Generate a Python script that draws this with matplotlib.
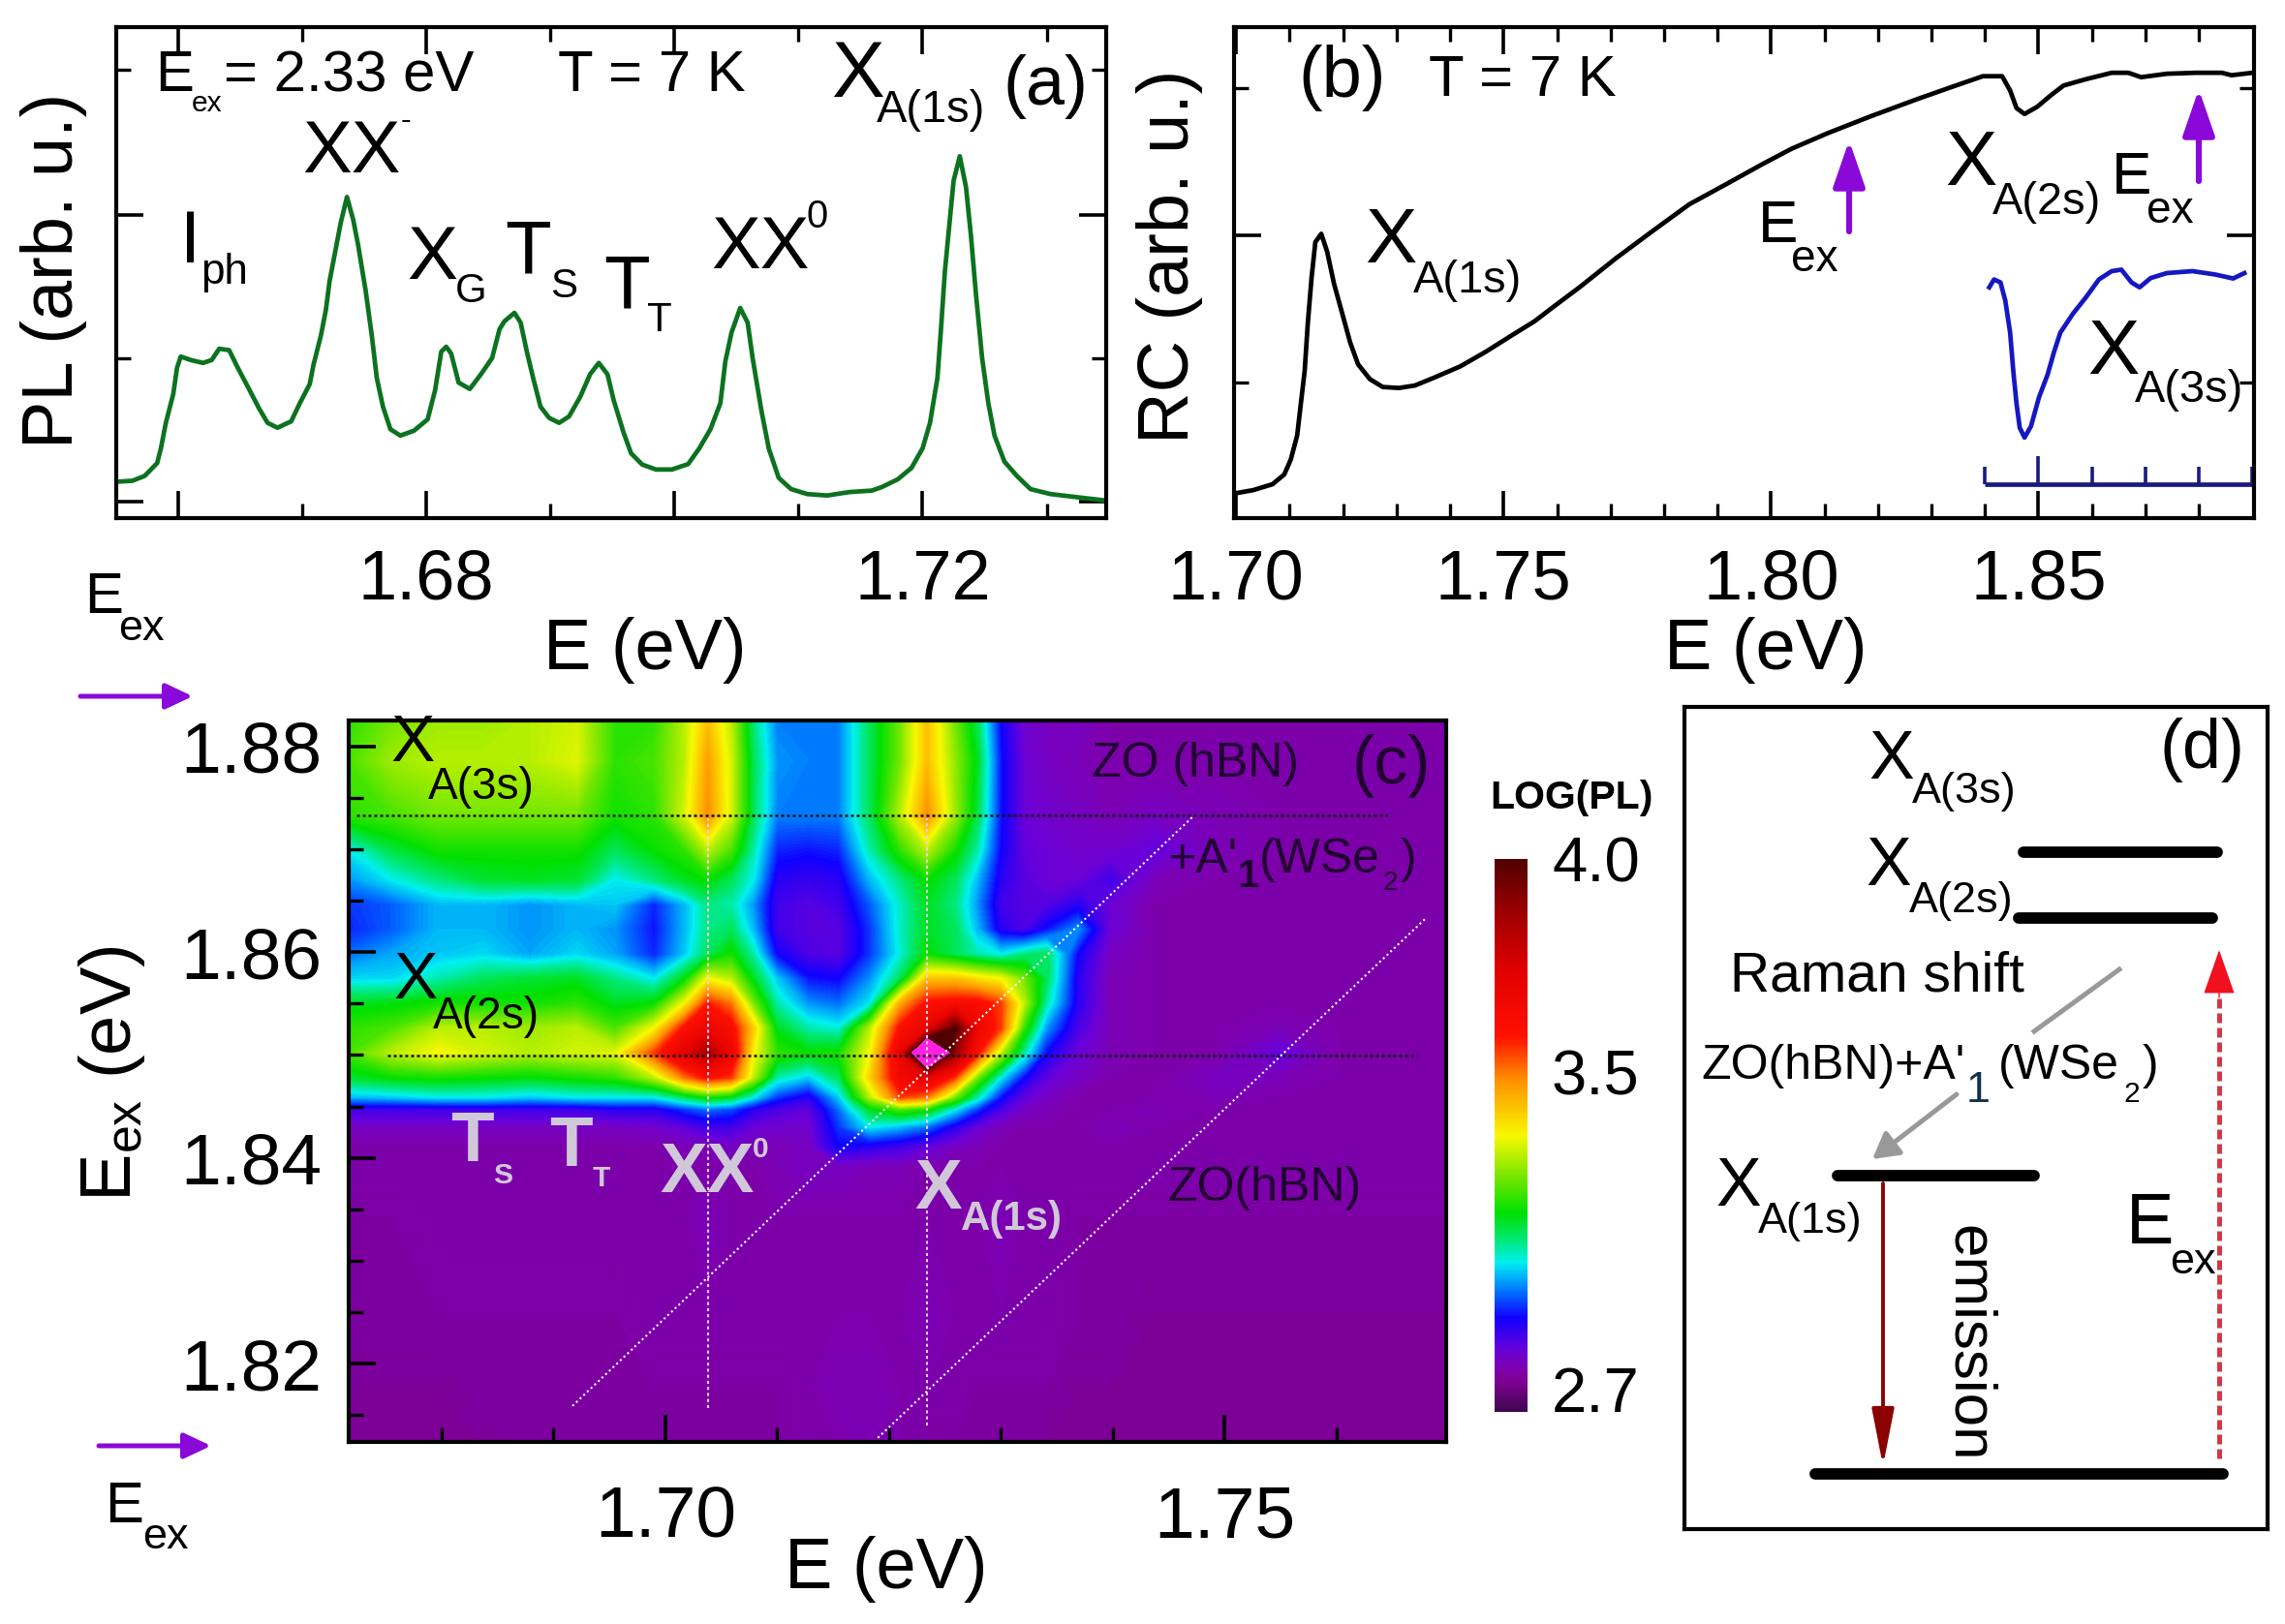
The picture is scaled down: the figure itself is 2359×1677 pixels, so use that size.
import numpy as np
import matplotlib
matplotlib.use("Agg")
import matplotlib.pyplot as plt
from matplotlib.colors import LinearSegmentedColormap, Normalize
from matplotlib.cm import ScalarMappable

plt.rcParams['font.family'] = ['Liberation Sans', 'DejaVu Sans']
plt.rcParams['mathtext.default'] = 'regular'

W, H = 2359, 1677

# panel (a) PL spectrum
pl_e = [1.6550, 1.6563, 1.6573, 1.6583, 1.6586, 1.6590, 1.6596, 1.6599, 1.6602, 1.6610, 1.6620, 1.6627,
        1.6633, 1.6641, 1.6648, 1.6657, 1.6665, 1.6672, 1.6680, 1.6691, 1.6698, 1.6706, 1.6709, 1.6715,
        1.6719, 1.6722, 1.6727, 1.6731, 1.6736, 1.6741, 1.6745, 1.6751, 1.6756, 1.6760, 1.6765, 1.6771,
        1.6779, 1.6790, 1.6801, 1.6807, 1.6812, 1.6816, 1.6820, 1.6826, 1.6835, 1.6844, 1.6853, 1.6859,
        1.6863, 1.6871, 1.6876, 1.6881, 1.6886, 1.6892, 1.6899, 1.6907, 1.6915, 1.6924, 1.6932, 1.6939,
        1.6946, 1.6951, 1.6959, 1.6965, 1.6974, 1.6985, 1.6998, 1.7011, 1.7020, 1.7029, 1.7037, 1.7041,
        1.7046, 1.7053, 1.7059, 1.7063, 1.7070, 1.7076, 1.7084, 1.7094, 1.7107, 1.7123, 1.7141, 1.7159,
        1.7167, 1.7180, 1.7191, 1.7200, 1.7206, 1.7212, 1.7215, 1.7218, 1.7221, 1.7225, 1.7230, 1.7235,
        1.7239, 1.7243, 1.7248, 1.7253, 1.7258, 1.7266, 1.7276, 1.7287, 1.7303, 1.7323, 1.7347]
pl_i = [7.4, 7.6, 8.6, 11.2, 14.2, 19.4, 25.3, 30.6, 32.9, 32.2, 31.6, 32.2,
        34.5, 34.2, 30.6, 26.3, 22.4, 19.4, 18.4, 19.7, 23.4, 27.3, 31.2, 37.2,
        42.4, 48.3, 54.9, 60.2, 65.4, 60.8, 55.6, 46.4, 37.2, 28.6, 22.7, 18.1,
        16.8, 17.8, 20.1, 26.0, 33.9, 34.9, 33.5, 27.6, 26.3, 29.3, 32.6, 38.5,
        40.1, 41.8, 39.8, 33.9, 28.6, 22.7, 20.4, 19.4, 20.7, 24.7, 29.3, 31.6,
        29.3, 24.0, 17.4, 13.2, 10.9, 9.9, 9.9, 11.0, 14.2, 18.1, 23.4, 31.9,
        37.8, 42.8, 39.8, 32.6, 22.0, 14.2, 8.2, 5.9, 4.9, 4.6, 5.3, 5.6,
        6.3, 7.9, 10.2, 14.2, 19.4, 28.6, 39.1, 50.3, 58.2, 68.7, 73.7, 67.4,
        57.5, 45.7, 32.6, 23.4, 16.8, 11.5, 8.6, 5.9, 4.9, 4.3, 3.6]

# panel (b) reflectance contrast
rc_e = [1.6996, 1.7032, 1.7068, 1.7090, 1.7102, 1.7114, 1.7121, 1.7128, 1.7134, 1.7141, 1.7148, 1.7159,
        1.7170, 1.7183, 1.7198, 1.7213, 1.7228, 1.7250, 1.7274, 1.7304, 1.7334, 1.7370, 1.7419, 1.7467,
        1.7515, 1.7558, 1.7594, 1.7643, 1.7711, 1.7779, 1.7847, 1.7916, 1.7984, 1.8038, 1.8106, 1.8188,
        1.8275, 1.8335, 1.8396, 1.8432, 1.8447, 1.8459, 1.8474, 1.8498, 1.8523, 1.8547, 1.8589, 1.8637,
        1.8668, 1.8692, 1.8740, 1.8794, 1.8843, 1.8861, 1.8900]
rc_i = [5.0, 5.7, 6.9, 8.9, 11.9, 16.8, 23.4, 29.9, 39.8, 49.0, 56.2, 57.9,
        54.3, 47.7, 41.8, 35.8, 31.3, 28.3, 26.7, 26.5, 27.0, 28.6, 30.9, 33.9,
        37.2, 40.1, 43.1, 47.1, 53.0, 58.5, 63.9, 68.0, 72.1, 75.2, 78.4, 81.9,
        85.4, 87.7, 90.0, 90.0, 87.1, 83.5, 82.3, 83.8, 86.1, 88.1, 89.4, 90.7,
        90.7, 89.8, 90.5, 90.7, 90.7, 90.2, 90.7]

# blue curve, X_A(3s) zoom
rc3s_e = [1.8408, 1.8417, 1.8429, 1.8438, 1.8447, 1.8453, 1.8459, 1.8465, 1.8474, 1.8486, 1.8501, 1.8517,
          1.8529, 1.8541, 1.8565, 1.8589, 1.8613, 1.8637, 1.8655, 1.8674, 1.8689, 1.8710, 1.8740, 1.8788,
          1.8831, 1.8864, 1.8885]
rc3s_i = [47.0, 48.6, 48.0, 44.3, 37.8, 29.9, 23.3, 18.4, 16.4, 18.7, 24.6, 29.2,
          33.8, 37.8, 41.7, 45.0, 48.6, 50.3, 50.6, 48.0, 47.0, 48.9, 49.9, 50.3,
          49.6, 48.8, 49.9]
rc3s_ticks = [1.84, 1.85, 1.86, 1.87, 1.88, 1.89]

# panel (c) PLE map, LOG(PL)
map_e = [1.6717, 1.6755, 1.6797, 1.6838, 1.6879, 1.6921, 1.6955, 1.6990, 1.7017, 1.7038,
         1.7059, 1.7079, 1.7100, 1.7128, 1.7155, 1.7183, 1.7210, 1.7234, 1.7259, 1.7279,
         1.7300, 1.7321, 1.7341, 1.7369, 1.7397, 1.7438, 1.7493, 1.7548, 1.7603, 1.7698]
map_ex = [1.8825, 1.8786, 1.8733, 1.8699, 1.8670, 1.8646, 1.8622, 1.8598, 1.8574, 1.8550, 1.8526,
          1.8502, 1.8478, 1.8459, 1.8447, 1.8430, 1.8411, 1.8392, 1.8344, 1.8248, 1.8176, 1.8124]
map_log = [
    [3.20, 3.25, 3.28, 3.28, 3.30, 3.32, 3.20, 3.20, 3.30, 3.42, 3.30, 3.10, 2.99, 2.99, 2.99, 3.12, 3.25, 3.42, 3.25, 3.12, 2.92, 2.83, 2.82, 2.82, 2.80, 2.80, 2.80, 2.80, 2.80, 2.80],
    [3.22, 3.28, 3.30, 3.30, 3.30, 3.33, 3.20, 3.22, 3.30, 3.46, 3.32, 3.12, 3.00, 2.99, 2.99, 3.12, 3.25, 3.42, 3.27, 3.15, 2.93, 2.84, 2.82, 2.81, 2.80, 2.80, 2.80, 2.80, 2.80, 2.80],
    [3.20, 3.22, 3.25, 3.25, 3.25, 3.25, 3.18, 3.20, 3.32, 3.48, 3.32, 3.12, 2.99, 2.99, 2.99, 3.12, 3.30, 3.48, 3.28, 3.13, 2.93, 2.84, 2.83, 2.82, 2.81, 2.82, 2.81, 2.80, 2.80, 2.80],
    [3.05, 3.13, 3.18, 3.18, 3.18, 3.18, 3.12, 3.17, 3.20, 3.30, 3.22, 3.08, 2.94, 2.93, 2.94, 3.08, 3.20, 3.30, 3.18, 3.08, 2.92, 2.85, 2.84, 2.83, 2.83, 2.85, 2.81, 2.80, 2.80, 2.80],
    [3.00, 3.05, 3.10, 3.14, 3.15, 3.14, 3.05, 3.10, 3.15, 3.17, 3.12, 3.05, 2.90, 2.89, 2.90, 3.02, 3.10, 3.17, 3.12, 3.02, 2.90, 2.86, 2.84, 2.84, 2.88, 2.81, 2.80, 2.80, 2.80, 2.80],
    [2.95, 2.97, 3.02, 3.02, 3.00, 3.02, 3.03, 2.94, 3.02, 3.10, 3.08, 3.00, 2.88, 2.86, 2.88, 2.97, 3.07, 3.15, 3.10, 3.00, 2.88, 2.86, 2.86, 2.90, 2.84, 2.80, 2.80, 2.80, 2.80, 2.80],
    [2.94, 2.97, 3.02, 3.02, 3.00, 3.02, 3.00, 2.93, 3.02, 3.10, 3.12, 3.02, 2.88, 2.86, 2.86, 2.95, 3.07, 3.15, 3.12, 3.02, 2.90, 2.87, 2.93, 3.00, 2.84, 2.80, 2.80, 2.80, 2.80, 2.80],
    [2.98, 3.01, 3.03, 3.04, 3.01, 3.04, 3.01, 2.94, 3.03, 3.12, 3.18, 3.08, 2.92, 2.87, 2.86, 2.95, 3.06, 3.17, 3.12, 3.08, 3.05, 3.10, 3.12, 2.92, 2.82, 2.80, 2.80, 2.80, 2.80, 2.80],
    [3.04, 3.04, 3.08, 3.12, 3.14, 3.15, 3.10, 3.05, 3.16, 3.35, 3.30, 3.15, 3.03, 2.93, 2.92, 3.00, 3.12, 3.42, 3.42, 3.38, 3.35, 3.25, 3.12, 2.90, 2.81, 2.80, 2.80, 2.80, 2.80, 2.80],
    [3.15, 3.16, 3.18, 3.18, 3.18, 3.20, 3.15, 3.17, 3.35, 3.58, 3.50, 3.25, 3.08, 3.00, 2.98, 3.05, 3.45, 3.60, 3.62, 3.62, 3.55, 3.30, 3.08, 2.90, 2.81, 2.80, 2.80, 2.80, 2.80, 2.80],
    [3.20, 3.22, 3.30, 3.30, 3.28, 3.30, 3.22, 3.35, 3.60, 3.68, 3.62, 3.40, 3.15, 3.08, 3.06, 3.30, 3.60, 3.70, 4.00, 3.68, 3.55, 3.20, 3.00, 2.87, 2.81, 2.80, 2.80, 2.81, 2.80, 2.80],
    [3.22, 3.30, 3.35, 3.32, 3.30, 3.32, 3.33, 3.55, 3.72, 3.85, 3.68, 3.35, 3.20, 3.17, 3.18, 3.35, 3.70, 4.40, 3.90, 3.60, 3.30, 3.08, 2.92, 2.84, 2.81, 2.80, 2.80, 2.85, 2.80, 2.80],
    [3.14, 3.17, 3.18, 3.17, 3.16, 3.18, 3.20, 3.30, 3.50, 3.60, 3.55, 3.30, 3.08, 3.03, 3.12, 3.40, 3.65, 3.72, 3.55, 3.25, 3.05, 2.92, 2.85, 2.82, 2.80, 2.80, 2.82, 2.81, 2.80, 2.80],
    [3.02, 3.03, 3.05, 3.05, 3.03, 3.05, 3.05, 3.05, 3.12, 3.18, 3.15, 3.05, 2.95, 2.90, 3.03, 3.30, 3.55, 3.50, 3.25, 3.08, 2.93, 2.85, 2.82, 2.80, 2.80, 2.80, 2.81, 2.80, 2.80, 2.80],
    [2.88, 2.88, 2.88, 2.88, 2.88, 2.88, 2.90, 2.90, 2.95, 2.98, 2.96, 2.90, 2.87, 2.85, 2.98, 3.15, 3.22, 3.18, 3.05, 2.95, 2.87, 2.82, 2.81, 2.80, 2.80, 2.81, 2.80, 2.80, 2.80, 2.80],
    [2.82, 2.82, 2.82, 2.82, 2.82, 2.82, 2.82, 2.83, 2.85, 2.88, 2.88, 2.84, 2.83, 2.83, 2.95, 3.05, 3.02, 2.98, 2.90, 2.84, 2.81, 2.80, 2.80, 2.80, 2.81, 2.80, 2.80, 2.80, 2.80, 2.80],
    [2.80, 2.80, 2.80, 2.80, 2.80, 2.80, 2.80, 2.80, 2.81, 2.81, 2.82, 2.81, 2.81, 2.82, 2.92, 2.90, 2.88, 2.85, 2.82, 2.81, 2.80, 2.80, 2.80, 2.80, 2.80, 2.80, 2.80, 2.80, 2.80, 2.80],
    [2.80, 2.80, 2.80, 2.80, 2.80, 2.80, 2.80, 2.80, 2.80, 2.80, 2.80, 2.80, 2.81, 2.82, 2.82, 2.81, 2.81, 2.80, 2.80, 2.80, 2.80, 2.80, 2.80, 2.80, 2.80, 2.80, 2.80, 2.80, 2.80, 2.80],
    [2.79, 2.79, 2.80, 2.80, 2.80, 2.80, 2.80, 2.80, 2.80, 2.81, 2.80, 2.80, 2.80, 2.80, 2.80, 2.80, 2.80, 2.80, 2.80, 2.80, 2.81, 2.80, 2.80, 2.79, 2.79, 2.79, 2.79, 2.79, 2.79, 2.79],
    [2.79, 2.79, 2.79, 2.79, 2.79, 2.79, 2.79, 2.80, 2.80, 2.80, 2.80, 2.80, 2.80, 2.80, 2.80, 2.80, 2.80, 2.81, 2.80, 2.80, 2.80, 2.80, 2.80, 2.79, 2.79, 2.78, 2.78, 2.78, 2.78, 2.78],
    [2.78, 2.78, 2.78, 2.79, 2.79, 2.79, 2.79, 2.79, 2.79, 2.79, 2.79, 2.79, 2.79, 2.80, 2.81, 2.81, 2.80, 2.80, 2.80, 2.79, 2.79, 2.79, 2.79, 2.78, 2.78, 2.78, 2.78, 2.78, 2.78, 2.78],
    [2.78, 2.78, 2.78, 2.78, 2.79, 2.79, 2.79, 2.79, 2.79, 2.79, 2.79, 2.79, 2.79, 2.80, 2.80, 2.81, 2.80, 2.79, 2.79, 2.79, 2.79, 2.79, 2.78, 2.78, 2.78, 2.78, 2.78, 2.78, 2.78, 2.78],
]
map_ticks = [2.7, 3.5, 4.0]


def px_axes(x0, y0, x1, y1, **kw):
    # axes from pixel box, y counted from the top
    ax = fig.add_axes([x0 / W, 1 - y1 / H, (x1 - x0) / W, (y1 - y0) / H], **kw)
    ax.box = (x0, y0, x1, y1)
    for s in ax.spines.values():
        s.set_linewidth(3.0)
    return ax


def axis_labels(ax, xlabel, xpos, ylabel, ypos, size=74):
    x0, y0, x1, y1 = ax.box
    ax.set_xlabel(xlabel, fontsize=size * 0.72, va='baseline', ha='center')
    ax.xaxis.set_label_coords((xpos[0] - x0) / (x1 - x0), (y1 - xpos[1]) / (y1 - y0))
    ax.set_ylabel(ylabel, fontsize=size * 0.72, va='baseline', ha='center')
    ax.yaxis.set_label_coords((ypos[0] - x0) / (x1 - x0), (y1 - ypos[1]) / (y1 - y0))


def ticks_style(ax, mirror=True, pad=23, labelsize=52):
    ax.tick_params(which='major', direction='in', length=20, width=2.6, labelsize=labelsize,
                   top=mirror, right=mirror, pad=pad)
    ax.tick_params(which='minor', direction='in', length=11, width=2.4, top=mirror, right=mirror)


def put(x, y, s, size, color='black', **kw):
    over.text(x, y, s, fontsize=size * 0.72, color=color, va='baseline', ha='left', **kw)


def arrow(xy0, xy1, color, lw, hw, hl, ax=None, **kw):
    (ax or over).annotate('', xy=xy1, xytext=xy0, arrowprops=dict(
        arrowstyle='-|>,head_width=%.2f,head_length=%.2f' % (hw, hl), color=color, lw=lw,
        shrinkA=0, shrinkB=0, mutation_scale=10, **kw))


fig = plt.figure(figsize=(W / 100, H / 100), dpi=100)

# (a)
ax_a = px_axes(120, 28, 1142, 535)
ax_a.plot(pl_e, pl_i, color='#0c7220', lw=3.4, solid_joinstyle='round')
ax_a.set_xlim(1.655, 1.7348)
ax_a.set_ylim(0, 100)
ax_a.set_xticks([1.66, 1.68, 1.70, 1.72], ['', '1.68', '', '1.72'])
ax_a.set_xticks(np.arange(1.67, 1.74, 0.02), minor=True)
ax_a.set_yticks([3.4, 61.8], [])
ax_a.set_yticks([32.6, 91.4], minor=True)
ticks_style(ax_a)
axis_labels(ax_a, 'E (eV)', (666, 691), 'PL (arb. u.)', (75, 279))

# (b)
ax_b = px_axes(1274, 28, 2327, 535)
ax_b.plot(rc_e, rc_i, color='black', lw=3.4, solid_joinstyle='round')
ax_b.plot(rc3s_e, rc3s_i, color='#1518c0', lw=3.4, solid_joinstyle='round')
ax_b.hlines(7.0, rc3s_ticks[0], rc3s_ticks[-1], color='#1a1a80', lw=3.4)
ax_b.vlines(rc3s_ticks, 7.0, [10.4, 12.7, 10.4, 10.4, 10.4, 10.4], color='#1a1a80', lw=2.6)
ax_b.set_xlim(1.6996, 1.8903)
ax_b.set_ylim(0, 100)
ax_b.set_xticks([1.70, 1.75, 1.80, 1.85], ['1.70', '1.75', '1.80', '1.85'])
ax_b.set_xticks(np.arange(1.71, 1.89, 0.01), minor=True)
ax_b.set_yticks([57.6], [])
ax_b.set_yticks([27.7, 87.5], minor=True)
ticks_style(ax_b)
axis_labels(ax_b, 'E (eV)', (1823, 691), 'RC (arb. u.)', (1227, 265))

# (c)
rainbow = LinearSegmentedColormap.from_list('ple', [
    (0.00, '#3c0850'), (0.05, '#7c008c'), (0.08, '#7c00b0'), (0.11, '#6a00d8'), (0.17, '#1000ff'),
    (0.22, '#0078ff'), (0.27, '#00f0f0'), (0.31, '#00e878'), (0.36, '#00e000'), (0.43, '#80e800'),
    (0.50, '#f8f800'), (0.60, '#ff9000'), (0.68, '#ff1000'), (0.80, '#e00000'), (0.90, '#a00000'),
    (1.00, '#500000')], N=512)
rainbow.set_over('#ff20e0')
norm = Normalize(2.7, 4.0)

ax_c = px_axes(360, 744, 1493, 1489)
ax_c.contourf(map_e, map_ex[::-1], np.array(map_log)[::-1], levels=np.linspace(2.7, 4.0, 261),
              cmap=rainbow, norm=norm, extend='both')
ax_c.set_xlim(1.6717, 1.7698)
ax_c.set_ylim(1.8124, 1.8825)
ax_c.set_xticks([1.70, 1.75], ['1.70', '1.75'])
ax_c.set_xticks([1.68, 1.69, 1.71, 1.72, 1.73, 1.74, 1.76], minor=True)
ax_c.set_yticks([1.82, 1.84, 1.86, 1.88], ['1.82', '1.84', '1.86', '1.88'])
ax_c.set_yticks([1.815, 1.825, 1.83, 1.835, 1.845, 1.85, 1.855, 1.865, 1.87, 1.875], minor=True)
ticks_style(ax_c, mirror=False, pad=32, labelsize=54)
ax_c.tick_params(axis='y', which='major', pad=20)
axis_labels(ax_c, 'E (eV)', (915, 1640), r'E$_{ex}$ (eV)', (135, 1109))
ax_c.plot([1.6724, 1.7645], [1.8733, 1.8733], color='#101010', lw=1.8, ls=(0, (1.2, 1.2)))
ax_c.plot([1.6752, 1.7672], [1.8499, 1.8499], color='#101010', lw=1.8, ls=(0, (1.2, 1.2)))
ax_c.plot([1.7038, 1.7038], [1.8157, 1.8730], color='#f0d0f0', lw=1.5, ls=(0, (1.5, 1.5)))
ax_c.plot([1.7234, 1.7234], [1.8140, 1.8730], color='#f0d0f0', lw=1.5, ls=(0, (1.5, 1.5)))
ax_c.plot([1.6917, 1.7471], [1.8159, 1.8731], color='white', lw=1.5, ls=(0, (1, 1.5)))
ax_c.plot([1.7190, 1.7679], [1.8128, 1.8632], color='white', lw=1.5, ls=(0, (1, 1.5)))

# colour bar
cax = px_axes(1543, 887, 1577, 1458)
cbar = fig.colorbar(ScalarMappable(norm, rainbow), cax=cax, ticks=map_ticks)
cbar.outline.set_visible(False)
cbar.ax.tick_params(length=0, labelsize=47, pad=18)
cbar.ax.set_yticklabels(['2.7', '3.5', '4.0'])
cbar.ax.get_yticklabels()[0].set_verticalalignment('baseline')

# (d) level scheme, axes in pixels
ax_d = px_axes(1739, 730, 2341, 1579)
ax_d.set_xlim(1739, 2341)
ax_d.set_ylim(1579, 730)
ax_d.set_xticks([])
ax_d.set_yticks([])
level_x0 = [2089, 2084, 1897, 1874]
level_x1 = [2289, 2284, 2100, 2295]
level_y = [880, 948, 1214, 1522]
for x0, x1, y in zip(level_x0, level_x1, level_y):
    ax_d.plot([x0, x1], [y, y], color='black', lw=8.5, solid_capstyle='round')
ax_d.plot([2188, 2100], [1001, 1065], color='#999999', lw=3.6)
arrow((2020, 1130), (1933, 1197), '#999999', 3.6, 0.9, 1.6, ax=ax_d)
arrow((1944, 1222), (1944, 1514), '#8b0000', 2.8, 0.7, 3.6, ax=ax_d)
ax_d.plot([2291, 2291], [1506, 1030], color='#d03848', lw=3.6, ls=(0, (2.0, 1.0)))
arrow((2291, 1030), (2291, 981), '#f01020', 1.0, 1.05, 3.0, ax=ax_d)

# all labels go on a full figure layer in pixels
over = fig.add_axes([0, 0, 1, 1], facecolor='none')
over.set_xlim(0, W)
over.set_ylim(H, 0)
over.axis('off')

put(160, 94, 'E', 60)
put(198, 115, 'ex', 30)
put(231, 94, '= 2.33 eV', 60)
put(576, 94, 'T = 7 K', 60)
put(858, 100, 'X', 82)
put(905, 126, 'A(1s)', 47)
put(1035, 108, '(a)', 72)
put(312, 178, 'XX', 76)
put(414, 133, '-', 32)
put(186, 271, 'I', 76)
put(207, 293, 'ph', 44)
put(420, 288, 'X', 78)
put(470, 312, 'G', 42)
put(521, 282, 'T', 78)
put(568, 307, 'S', 42)
put(623, 318, 'T', 78)
put(668, 342, 'T', 42)
put(734, 277, 'XX', 76)
put(833, 235, '0', 40)
put(87, 633, 'E', 60)
put(122, 661, 'ex', 45)

put(1340, 100, '(b)', 74)
put(1475, 99, 'T = 7 K', 60)
put(1409, 271, 'X', 80)
put(1459, 302, 'A(1s)', 47)
put(1815, 250, 'E', 62)
put(1849, 280, 'ex', 46)
put(2008, 191, 'X', 80)
put(2057, 221, 'A(2s)', 47)
put(2180, 200, 'E', 62)
put(2216, 230, 'ex', 46)
put(2155, 386, 'X', 80)
put(2204, 415, 'A(3s)', 47)
arrow((1909, 239), (1909, 145), '#8a08d8', 4.4, 1.0, 2.9)
arrow((2270, 187), (2270, 92), '#8a08d8', 4.4, 1.0, 2.9)
arrow((83, 719), (199, 719), '#8a08d8', 3.6, 0.8, 1.7)
arrow((102, 1493), (218, 1493), '#8a08d8', 3.6, 0.8, 1.7)
put(108, 1572, 'E', 60)
put(147, 1599, 'ex', 45)

put(403, 786, 'X', 68)
put(442, 825, 'A(3s)', 46)
put(406, 1031, 'X', 68)
put(447, 1062, 'A(2s)', 46)
put(1127, 802, 'ZO (hBN)', 50, color='#200030')
put(1396, 809, '(c)', 70, color='#200030')
put(1205, 901, "+A'", 50, color='#200030')
put(1277, 916, '1', 40, color='#200030', fontweight='bold')
put(1300, 901, '(WSe', 50, color='#200030')
put(1428, 919, '2', 28, color='#200030')
put(1446, 901, ')', 50, color='#200030')
put(1205, 1240, 'ZO(hBN)', 50, color='#200030')
light = '#d0c8d8'
put(465, 1199, 'T', 73, color=light, fontweight='bold')
put(509, 1222, 'S', 30, color=light, fontweight='bold')
put(567, 1204, 'T', 73, color=light, fontweight='bold')
put(612, 1225, 'T', 30, color=light, fontweight='bold')
put(681, 1231, 'XX', 73, color=light, fontweight='bold')
put(777, 1195, '0', 30, color=light, fontweight='bold')
put(944, 1248, 'X', 73, color=light, fontweight='bold')
put(992, 1270, 'A(1s)', 42, color=light, fontweight='bold')
put(1538, 835, 'LOG(PL)', 41, fontweight='bold')

put(1929, 804, 'X', 70)
put(1974, 829, 'A(3s)', 45)
put(1926, 914, 'X', 70)
put(1971, 942, 'A(2s)', 45)
put(2229, 793, '(d)', 72)
put(1786, 1023, 'Raman shift', 57)
put(1756, 1114, "ZO(hBN)+A'", 50)
put(2030, 1138, '1', 45, color='#103050')
put(2063, 1114, '(WSe', 50)
put(2192, 1138, '2', 30)
put(2212, 1114, ')', 50)
put(1771, 1245, 'X', 70)
put(1815, 1273, 'A(1s)', 45)
put(2195, 1284, 'E', 74)
put(2240, 1315, 'ex', 45)
over.text(2003, 1265, 'emission', fontsize=62 * 0.72, rotation=-90, ha='left', va='top')

fig.savefig('out.png', dpi=100)
